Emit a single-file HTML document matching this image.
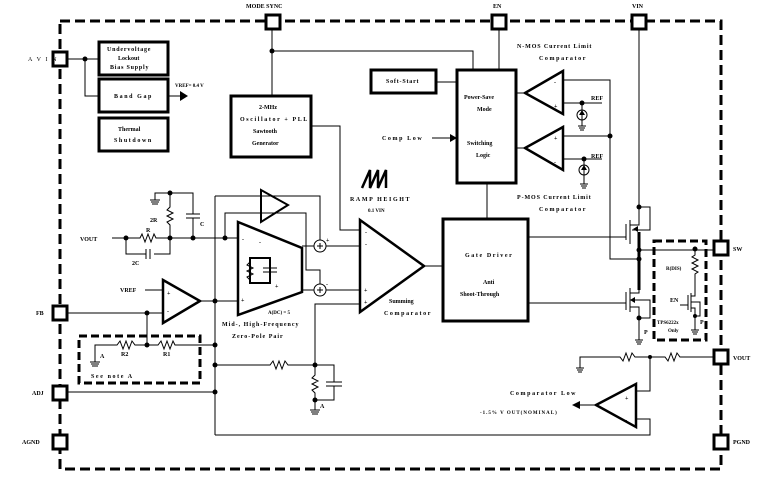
<!DOCTYPE html>
<html><head><meta charset="utf-8"><style>
html,body{margin:0;padding:0;background:#fff;}
svg{display:block}
text{font-family:"Liberation Serif",serif;font-size:6px;fill:#000;}
.b{font-weight:bold}
.ls{letter-spacing:1.6px}
</style></head><body>
<svg width="774" height="482" viewBox="0 0 774 482" xmlns="http://www.w3.org/2000/svg">
<g fill="none" stroke="#000" stroke-width="1">
<rect x="60" y="21" width="661" height="448" stroke-width="3" stroke-dasharray="10,5"/>
<g stroke-width="3" fill="#fff">
<rect x="53" y="52" width="14" height="14"/>
<rect x="266" y="15" width="14" height="14"/>
<rect x="492" y="15" width="14" height="14"/>
<rect x="632" y="15" width="14" height="14"/>
<rect x="53" y="306" width="14" height="14"/>
<rect x="53" y="386" width="14" height="14"/>
<rect x="53" y="435" width="14" height="14"/>
<rect x="714" y="241" width="14" height="14"/>
<rect x="714" y="350" width="14" height="14"/>
<rect x="714" y="435" width="14" height="14"/>
</g>
<g stroke-width="3">
<rect x="99" y="42" width="69" height="33"/>
<rect x="99" y="79" width="69" height="33"/>
<rect x="99" y="118" width="69" height="33"/>
<rect x="231" y="96" width="80" height="61"/>
<rect x="371" y="70" width="65" height="23"/>
<rect x="457" y="70" width="59" height="113"/>
<rect x="443" y="219" width="85" height="102"/>
</g>
<path d="M67 59H99M85 59V96H99M168 96H180"/>
<path d="M272 29V96M272 51H473V70M499 29V70M436 82H457M432 138H450"/>
<path d="M311 126H340V230H360"/>
<g stroke-width="2.5">
<path d="M563 71L525 93L563 114Z"/>
<path d="M563 127L525 148L563 170Z"/>
</g>
<path d="M516 93H525M516 148H525"/>
<path d="M563 80H610V259H639M563 136H610M563 103H602M563 159H602"/>
<path d="M582 103V126M584 159V184"/>
<circle cx="582" cy="115" r="5"/><circle cx="584" cy="170" r="5"/>
<path d="M578 126H586M579 128H585M580 130H584M580 184H588M581 186H587M582 188H586"/>
<path d="M487 183V219"/>
<path d="M639 29V207"/>
<path d="M639 207H650V230H632M626 224V240M630 220V244M630 225H639V207"/>
<path d="M528 237H626"/>
<path d="M639 232V290" stroke-width="3"/>
<path d="M639 250H714M639 259H610"/>
<path d="M626 292V310M630 288V312M630 293H639V288M630 300H650V318H639V340M528 303H626M630 307H639V318"/>
<path d="M635 340H643M636 342H642M637 344H641"/>
<rect x="654" y="241" width="52" height="99" stroke-width="3" stroke-dasharray="8,4"/>
<path d="M695 249V255L692 257L698 260L692 263L698 266L692 269L698 272L695 274V290M688 295V310M691 293V312M691 296H695V290M691 302H700V316H695V330M680 305H688M691 308H695V316"/>
<path d="M691 330H699M692 332H698M693 334H697"/>
<path d="M714 357H680L677 353L674 361L671 353L668 361L665 357H635L632 353L629 361L626 353L623 361L620 357H580V368M576 368H584M577 370H583M578 372H582"/>
<path d="M650 357V391H636M636 419H650V435H215"/>
<path d="M636 384L596 405L636 427Z" stroke-width="2.5"/>
<path d="M596 405H580"/>
<path d="M360 220L424 266L360 312Z" stroke-width="2.5"/>
<path d="M424 266H443"/>
<path d="M362 188L370 170V188L378 170V188L386 170V188" stroke-width="2.5"/>
<path d="M238 222L302 248V292L238 315Z" stroke-width="2.5"/>
<path d="M250 258V283H270V258ZM250 258H270" stroke-width="2"/>
<path d="M250 262L247 265L253 268L247 271L253 274L247 277L250 280"/>
<path d="M263 268H277M263 272H277"/>
<path d="M302 246H314M326 246H360M302 290H314M326 290H360"/>
<circle cx="320" cy="246" r="6"/><circle cx="320" cy="290" r="6"/>
<path d="M317 246H323M320 243V249M317 290H323M320 287V293"/>
<path d="M215 196H320V240M225 238V213H306V270H320V284"/>
<path d="M261 190L288 205L261 222Z" stroke-width="2"/>
<path d="M315 365V304H360"/>
<path d="M112 238H140L142 234L145 242L148 234L151 242L154 234L156 238H238"/>
<path d="M126 238V254H146M154 254H170V238M146 249V259M150 249V259"/>
<path d="M170 238V225L167 222L173 219L167 216L173 213L167 210L170 207V193H193V214M186 214H200M186 218H200M193 218V238"/>
<path d="M170 193H155V200M150 200H160M151 202H159M152 204H158"/>
<path d="M163 280L200 301L163 323Z" stroke-width="2.5"/>
<path d="M145 290H163M67 313H163M200 301H238M147 313V345"/>
<rect x="79" y="336" width="121" height="47" stroke-width="3" stroke-dasharray="8,4"/>
<path d="M95 362V345H117L120 341L123 349L126 341L129 349L132 341L135 345H158L161 341L164 349L167 341L170 349L173 341L175 345H215"/>
<path d="M90 362H100M91 364H99M92 366H98"/>
<path d="M215 196V435M67 392H215"/>
<path d="M215 365H270L273 361L276 369L279 361L282 369L285 361L288 365H315V375L312 378L318 381L312 384L318 387L312 390L315 393V410M315 365H334V382M326 382H342M326 386H342M334 386V400H315"/>
<path d="M310 410H320M311 412H319M312 414H318"/>
</g>
<g fill="#000">
<circle cx="85" cy="59" r="2.5"/><circle cx="272" cy="51" r="2.5"/>
<path d="M180 91L188 96L180 101Z"/><path d="M450 134L457 138L450 142Z"/>
<path d="M580 401L572 405L580 409Z"/>
<path d="M582 110L579 115H585Z"/><path d="M584 165L581 170H587Z"/>
<circle cx="610" cy="136" r="2.5"/><circle cx="582" cy="103" r="2.5"/><circle cx="584" cy="159" r="2.5"/>
<circle cx="639" cy="207" r="2.5"/><circle cx="639" cy="250" r="2.5"/><circle cx="639" cy="259" r="2.5"/><circle cx="639" cy="318" r="2.5"/>
<circle cx="695" cy="249" r="2.5"/><circle cx="695" cy="316" r="2"/><circle cx="650" cy="357" r="2"/>
<path d="M633 229L638 226V232Z"/><path d="M630 300L635 297V303Z"/>
<circle cx="126" cy="238" r="2.5"/><circle cx="170" cy="238" r="2.5"/><circle cx="193" cy="238" r="2.5"/><circle cx="225" cy="238" r="2.5"/><circle cx="170" cy="193" r="2.5"/>
<circle cx="147" cy="313" r="2.5"/><circle cx="147" cy="345" r="2.5"/>
<circle cx="215" cy="301" r="2.5"/><circle cx="215" cy="345" r="2.5"/><circle cx="215" cy="365" r="2.5"/><circle cx="215" cy="392" r="2.5"/>
<circle cx="315" cy="365" r="2.5"/><circle cx="315" cy="400" r="2.5"/>
</g>
<text x="28" y="61" class="ls">A V I N</text>
<text x="246" y="8" class="b">MODE SYNC</text>
<text x="493" y="8" class="b">EN</text>
<text x="632" y="8" class="b">VIN</text>
<text x="36" y="315" class="b">FB</text>
<text x="32" y="395" class="b">ADJ</text>
<text x="22" y="444" class="b">AGND</text>
<text x="733" y="251" class="b">SW</text>
<text x="733" y="360" class="b">VOUT</text>
<text x="733" y="444" class="b">PGND</text>
<text x="107" y="51" class="b" style="letter-spacing:0.8px">Undervoltage</text>
<text x="118" y="60" class="b">Lockout</text>
<text x="110" y="69" class="b" style="letter-spacing:0.8px">Bias Supply</text>
<text x="114" y="98" class="b ls">Band Gap</text>
<text x="118" y="131" class="b">Thermal</text>
<text x="114" y="142" class="b ls">Shutdown</text>
<text x="175" y="87" class="b" style="font-size:5px">VREF= 0.4 V</text>
<text x="259" y="109" class="b">2-MHz</text>
<text x="240" y="121" class="b ls">Oscillator + PLL</text>
<text x="253" y="133" class="b">Sawtooth</text>
<text x="252" y="145" class="b">Generator</text>
<text x="386" y="83" class="b" style="letter-spacing:0.8px">Soft-Start</text>
<text x="464" y="99" class="b">Power-Save</text>
<text x="477" y="111" class="b">Mode</text>
<text x="467" y="145" class="b">Switching</text>
<text x="476" y="157" class="b">Logic</text>
<text x="382" y="140" class="b ls">Comp Low</text>
<text x="517" y="48" class="b" style="letter-spacing:0.9px">N-MOS Current Limit</text>
<text x="539" y="60" class="b ls">Comparator</text>
<text x="517" y="199" class="b" style="letter-spacing:0.9px">P-MOS Current Limit</text>
<text x="539" y="211" class="b ls">Comparator</text>
<text x="591" y="100" class="b">REF</text><text x="591" y="158" class="b">REF</text>
<text x="465" y="257" class="b ls">Gate Driver</text>
<text x="483" y="284" class="b">Anti</text>
<text x="460" y="296" class="b">Shoot-Through</text>
<text x="350" y="201" class="b ls">RAMP HEIGHT</text>
<text x="368" y="212" class="b" style="font-size:5px">0.1 VIN</text>
<text x="389" y="303" class="b">Summing</text>
<text x="384" y="315" class="b ls">Comparator</text>
<text x="222" y="326" class="b" style="letter-spacing:1px">Mid-, High-Frequency</text>
<text x="232" y="338" class="b" style="letter-spacing:1px">Zero-Pole Pair</text>
<text x="268" y="314" class="b" style="font-size:5px">A(DC) = 5</text>
<text x="80" y="241" class="b">VOUT</text>
<text x="146" y="232" class="b">R</text>
<text x="150" y="222" class="b">2R</text>
<text x="200" y="226" class="b">C</text>
<text x="132" y="265" class="b">2C</text>
<text x="120" y="292" class="b">VREF</text>
<text x="100" y="358" class="b">A</text><text x="121" y="356" class="b">R2</text><text x="163" y="356" class="b">R1</text>
<text x="91" y="378" class="b ls">See note A</text>
<text x="320" y="408" class="b">A</text>
<text x="242" y="241" class="b">-</text><text x="241" y="302" class="b">+</text>
<text x="259" y="244" class="b">-</text><text x="275" y="288" class="b">+</text>
<text x="326" y="242" class="b">+</text><text x="326" y="286" class="b">-</text>
<text x="365" y="234" class="b">-</text><text x="365" y="246" class="b">-</text>
<text x="364" y="292" class="b">+</text><text x="364" y="304" class="b">+</text>
<text x="167" y="295" class="b">+</text><text x="167" y="313" class="b">-</text>
<text x="554" y="84" class="b">-</text><text x="554" y="108" class="b">+</text>
<text x="554" y="140" class="b">+</text><text x="554" y="164" class="b">-</text>
<text x="625" y="400" class="b">+</text><text x="625" y="422" class="b">-</text>
<text x="510" y="395" class="b ls">Comparator Low</text>
<text x="480" y="414" class="b" style="font-size:5px;letter-spacing:1px">-1.5% V OUT(NOMINAL)</text>
<text x="666" y="270" class="b" style="font-size:5px">R(DIS)</text>
<text x="670" y="302" class="b" text-decoration="overline">EN</text>
<text x="657" y="324" class="b" style="font-size:5px">TPS6222x</text>
<text x="668" y="332" class="b" style="font-size:5px">Only</text>
<text x="644" y="334" class="b">P</text><text x="700" y="324" class="b">P</text>
</svg>
</body></html>
